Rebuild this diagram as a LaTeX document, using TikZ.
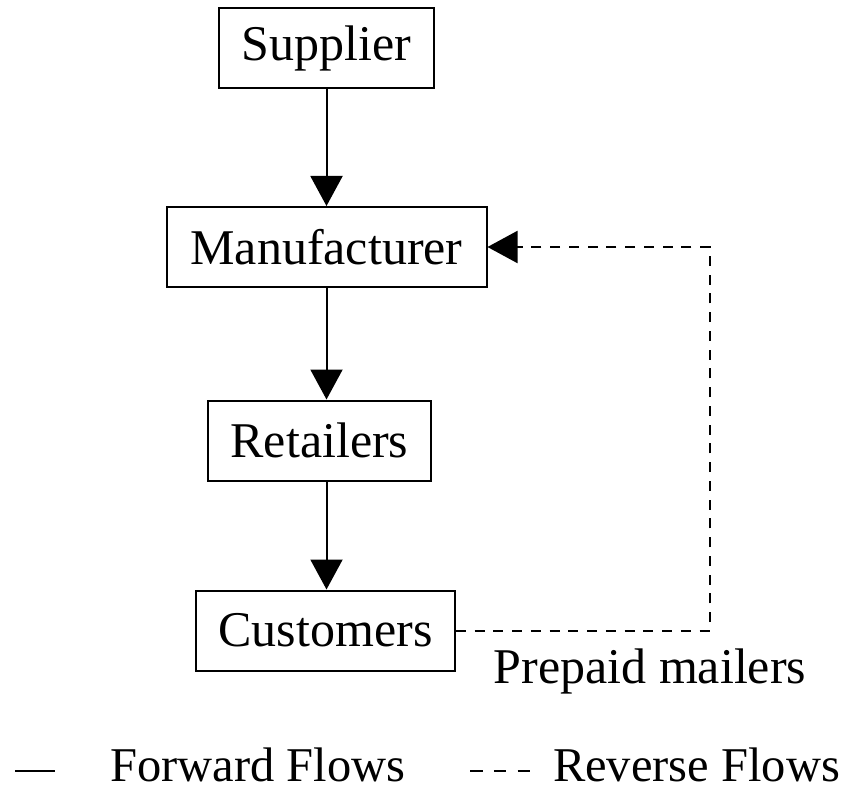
\documentclass[tikz,border=0pt]{standalone}
\usepackage{fontspec}
\setmainfont{Liberation Serif}
\usetikzlibrary{arrows.meta, positioning}
\tikzset{
>={Triangle[width=12.8pt,length=12pt]}, % big filled heads
node distance=44pt, % gap between the boxes
box/.style={draw, line width=0.8pt, minimum height=32pt, inner xsep=9pt},
forward/.style={->, line width=0.8pt},
reverse/.style={->, line width=0.8pt, dash pattern=on 4pt off 3.5pt},
}

\begin{document}
\begin{tikzpicture}[font=\fontsize{20}{24}\selectfont]
  \useasboundingbox (0,0) rectangle (337.6pt,-315.6pt);
  \node[box, minimum width=85pt] (sup) at (130.6pt,-19.2pt) {Supplier};
  \node[box, minimum width=128pt, below=46.8pt of sup] (man) {Manufacturer};
  \node[box, minimum width=88pt, below=44.6pt of man, xshift=-2.8pt] (ret) {Retailers};
  \node[box, minimum width=103pt, below=43.2pt of ret, xshift=2.4pt] (cus) {Customers};

  \draw[forward] (sup) -- (man);
  \draw[forward] (man.south) -- (man.south |- ret.north);
  \draw[forward] (man.south |- ret.south) -- (man.south |- cus.north);

  % return loop
  \coordinate (turn) at (284pt,0pt);
  \draw[reverse] (cus) -- (cus -| turn) |- (man);
  \node (mail) at (260pt,-268.4pt) {Prepaid mailers};

  % legend
  \begin{scope}[font=\fontsize{19.4}{23}\selectfont]
  \coordinate (fwd a) at (6pt,-308.4pt);
  \coordinate (fwd b) at (22pt,-308.4pt);
  \draw[line width=0.8pt] (fwd a) -- (fwd b);
  \node[anchor=base west, inner sep=0pt] (fwd) at (44pt,-312.6pt) {Forward Flows};
  \coordinate (rev a) at (188pt,-308.4pt);
  \coordinate (rev b) at (212pt,-308.4pt);
  \draw[line width=0.8pt, dash pattern=on 5pt off 4.5pt] (rev a) -- (rev b);
  \node[anchor=base west, inner sep=0pt] (rev) at (221pt,-312.6pt) {Reverse Flows};
  \end{scope}
\end{tikzpicture}
\end{document}
